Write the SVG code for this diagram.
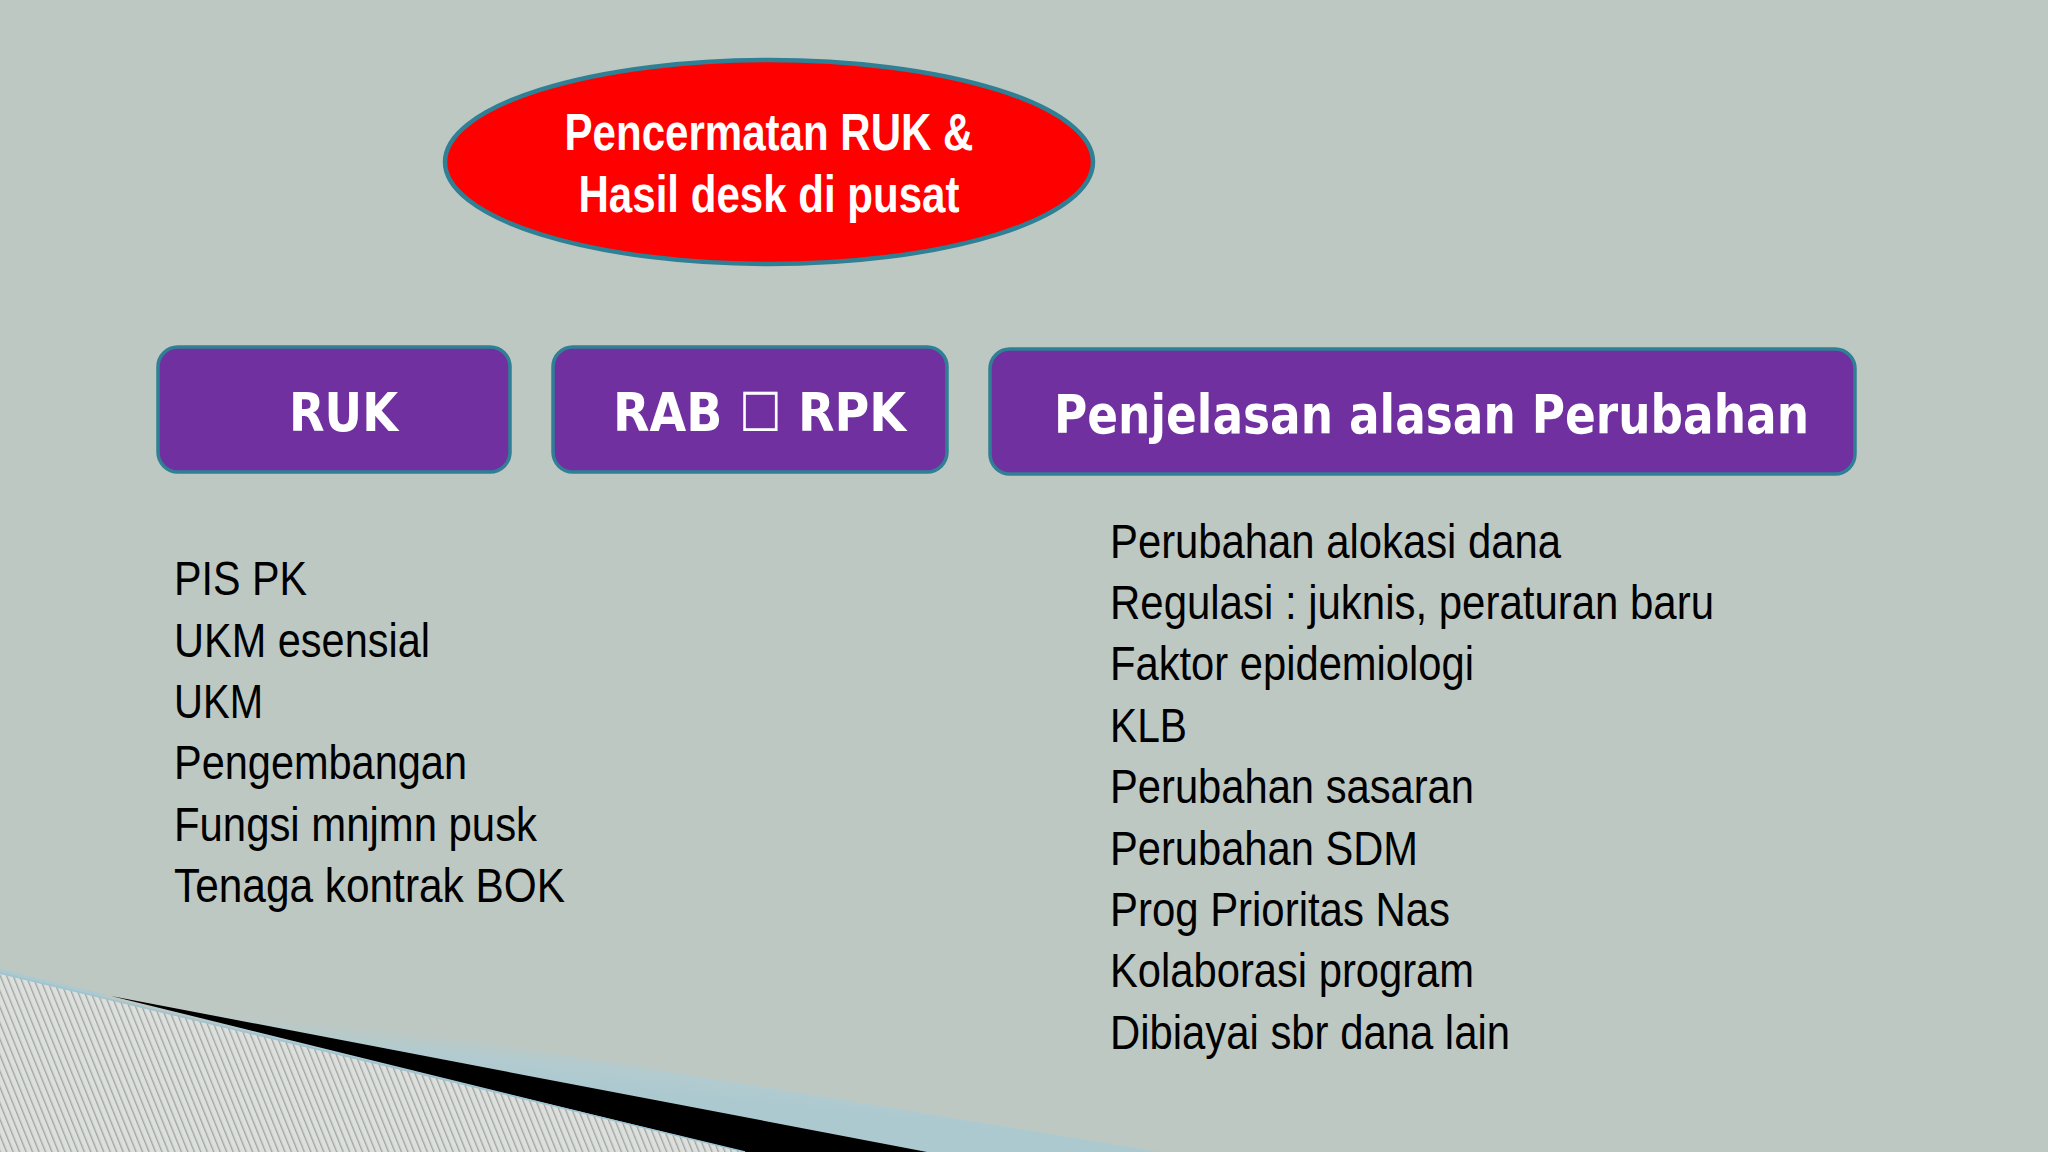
<svg xmlns="http://www.w3.org/2000/svg" width="2048" height="1152" viewBox="0 0 2048 1152">
<style>
.box{fill:#7030a0;stroke:#2f7f95;stroke-width:3.5}
.bt{font-family:"DejaVu Sans",sans-serif;font-weight:bold;font-size:54px;fill:#fff}
.et{font-family:"Liberation Sans",Arial,sans-serif;font-weight:bold;font-size:52px;fill:#fff;text-anchor:middle}
.lt{font-family:"Liberation Sans",Arial,sans-serif;font-size:48px;fill:#000}
</style>
<defs>
<pattern id="hatch" width="6" height="24" patternUnits="userSpaceOnUse" patternTransform="rotate(-22)">
<rect width="6" height="24" fill="#dcdfdb"/>
<rect width="1.3" height="24" fill="#9ea5a2"/>
</pattern>
<linearGradient id="blue" gradientUnits="userSpaceOnUse" x1="604" y1="1050" x2="600" y2="1090">
<stop offset="0" stop-color="#b0cbd1" stop-opacity="0"/>
<stop offset="0.5" stop-color="#b0cbd1" stop-opacity="0.9"/>
<stop offset="1" stop-color="#acc9d0"/>
</linearGradient>
</defs>
<rect width="2048" height="1152" fill="#bec8c2"/>
<g id="decoration">
<polygon points="0,962 1160,1152 0,1152" fill="url(#blue)"/>
<polygon points="0,969 111,996 0,990" fill="#acc9d0"/>
<polygon points="111,996 927,1152 745,1152" fill="#000"/>
<polygon points="0,974 745,1152 0,1152" fill="url(#hatch)"/>
<line x1="0" y1="973" x2="745" y2="1152" stroke="#9ec3d3" stroke-width="1.5"/>
</g>
<g id="node-pencermatan">
<ellipse cx="769" cy="162" rx="324" ry="102" fill="#ff0000" stroke="#2f7f95" stroke-width="4.5"/>
<text class="et" x="769" y="150" textLength="409" lengthAdjust="spacingAndGlyphs">Pencermatan RUK &amp;</text>
<text class="et" x="769" y="212" textLength="381" lengthAdjust="spacingAndGlyphs">Hasil desk di pusat</text>
</g>
<g id="node-ruk">
<rect class="box" x="158" y="347" width="352" height="125" rx="20"/>
<text class="bt" x="289" y="431" textLength="109" lengthAdjust="spacingAndGlyphs">RUK</text>
</g>
<g id="node-rab">
<rect class="box" x="553" y="347" width="394" height="125" rx="20"/>
<text class="bt" x="613" y="431" textLength="293" lengthAdjust="spacingAndGlyphs">RAB ☐ RPK</text>
</g>
<g id="node-penjelasan">
<rect class="box" x="990" y="349" width="865" height="125" rx="20"/>
<text class="bt" x="1054" y="433" textLength="755" lengthAdjust="spacingAndGlyphs">Penjelasan alasan Perubahan</text>
</g>
<g id="connectors"></g>
<g id="list-ruk">
<text class="lt" x="174" y="595" textLength="133" lengthAdjust="spacingAndGlyphs">PIS PK</text>
<text class="lt" x="174" y="657" textLength="256" lengthAdjust="spacingAndGlyphs">UKM esensial</text>
<text class="lt" x="174" y="718" textLength="89" lengthAdjust="spacingAndGlyphs">UKM</text>
<text class="lt" x="174" y="779" textLength="293" lengthAdjust="spacingAndGlyphs">Pengembangan</text>
<text class="lt" x="174" y="841" textLength="363" lengthAdjust="spacingAndGlyphs">Fungsi mnjmn pusk</text>
<text class="lt" x="174" y="902" textLength="391" lengthAdjust="spacingAndGlyphs">Tenaga kontrak BOK</text>
</g>
<g id="list-penjelasan">
<text class="lt" x="1110" y="558" textLength="451" lengthAdjust="spacingAndGlyphs">Perubahan alokasi dana</text>
<text class="lt" x="1110" y="619" textLength="604" lengthAdjust="spacingAndGlyphs">Regulasi : juknis, peraturan baru</text>
<text class="lt" x="1110" y="680" textLength="364" lengthAdjust="spacingAndGlyphs">Faktor epidemiologi</text>
<text class="lt" x="1110" y="742" textLength="77" lengthAdjust="spacingAndGlyphs">KLB</text>
<text class="lt" x="1110" y="803" textLength="364" lengthAdjust="spacingAndGlyphs">Perubahan sasaran</text>
<text class="lt" x="1110" y="865" textLength="308" lengthAdjust="spacingAndGlyphs">Perubahan SDM</text>
<text class="lt" x="1110" y="926" textLength="340" lengthAdjust="spacingAndGlyphs">Prog Prioritas Nas</text>
<text class="lt" x="1110" y="987" textLength="364" lengthAdjust="spacingAndGlyphs">Kolaborasi program</text>
<text class="lt" x="1110" y="1049" textLength="400" lengthAdjust="spacingAndGlyphs">Dibiayai sbr dana lain</text>
</g>
</svg>
